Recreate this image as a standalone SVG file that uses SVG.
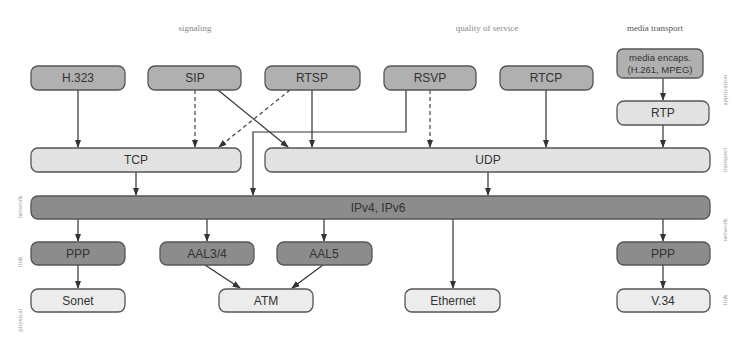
<svg xmlns="http://www.w3.org/2000/svg" width="733" height="349" viewBox="0 0 733 349">
<style>
.box{stroke:#555;stroke-width:1.3}
.mid{fill:#b0b0b0}
.lt{fill:#e2e2e2}
.xl{fill:#ececec}
.dk{fill:#8c8c8c}
.t{font-family:"Liberation Sans",Arial,sans-serif;font-size:12px;fill:#333;text-anchor:middle}
.h{font-family:"Liberation Serif",serif;font-size:9px;fill:#888;text-anchor:middle}
.side{font-family:"Liberation Serif",serif;font-size:7px;fill:#999;text-anchor:middle}
.c{stroke:#333;stroke-width:1.2;fill:none}
.d{stroke:#444;stroke-width:1.2;fill:none;stroke-dasharray:4 3}
</style>
<defs>
<marker id="a" viewBox="0 0 8 8" refX="7" refY="4" markerWidth="7" markerHeight="7" orient="auto">
<path d="M0,1 L8,4 L0,7 z" fill="#333"/>
</marker>
</defs>
<rect width="733" height="349" fill="#fff"/>
<g id="headers">
<text class="h" x="195" y="31">signaling</text>
<text class="h" x="487" y="31">quality of service</text>
<text class="h" x="655" y="31" style="fill:#555">media transport</text>
</g>
<g id="side-labels">
<text class="side" transform="translate(727,90) rotate(-90)">application</text>
<text class="side" transform="translate(727,160) rotate(-90)">transport</text>
<text class="side" transform="translate(727,230) rotate(-90)">network</text>
<text class="side" transform="translate(727,300) rotate(-90)">link</text>
<text class="side" transform="translate(22,207) rotate(-90)">network</text>
<text class="side" transform="translate(22,262) rotate(-90)">link</text>
<text class="side" transform="translate(22,320) rotate(-90)">physical</text>
</g>
<g id="connectors">
<line class="c" x1="78" y1="90" x2="78" y2="147" marker-end="url(#a)"/>
<line class="d" x1="195" y1="90" x2="195" y2="147" marker-end="url(#a)"/>
<line class="c" x1="218" y1="90" x2="288" y2="147" marker-end="url(#a)"/>
<line class="d" x1="290" y1="90" x2="219" y2="147" marker-end="url(#a)"/>
<line class="c" x1="312" y1="90" x2="312" y2="147" marker-end="url(#a)"/>
<polyline class="c" points="406,90 406,132 253,132 253,195" marker-end="url(#a)"/>
<line class="d" x1="430" y1="90" x2="430" y2="147" marker-end="url(#a)"/>
<line class="c" x1="546" y1="90" x2="546" y2="147" marker-end="url(#a)"/>
<line class="c" x1="663" y1="78" x2="663" y2="100" marker-end="url(#a)"/>
<line class="c" x1="663" y1="125" x2="663" y2="147" marker-end="url(#a)"/>
<line class="c" x1="136" y1="172" x2="136" y2="195" marker-end="url(#a)"/>
<line class="c" x1="488" y1="172" x2="488" y2="195" marker-end="url(#a)"/>
<line class="c" x1="78" y1="219" x2="78" y2="241" marker-end="url(#a)"/>
<line class="c" x1="207" y1="219" x2="207" y2="241" marker-end="url(#a)"/>
<line class="c" x1="324" y1="219" x2="324" y2="241" marker-end="url(#a)"/>
<line class="c" x1="453" y1="219" x2="453" y2="288" marker-end="url(#a)"/>
<line class="c" x1="663" y1="219" x2="663" y2="241" marker-end="url(#a)"/>
<line class="c" x1="78" y1="265" x2="78" y2="288" marker-end="url(#a)"/>
<line class="c" x1="205" y1="265" x2="240" y2="288" marker-end="url(#a)"/>
<line class="c" x1="323" y1="265" x2="292" y2="288" marker-end="url(#a)"/>
<line class="c" x1="663" y1="265" x2="663" y2="288" marker-end="url(#a)"/>
</g>
<g id="H323"><rect class="box mid" x="31" y="66" width="94" height="24" rx="7"/><text class="t" x="78" y="82">H.323</text></g>
<g id="SIP"><rect class="box mid" x="148" y="66" width="93" height="24" rx="7"/><text class="t" x="195" y="82">SIP</text></g>
<g id="RTSP"><rect class="box mid" x="265" y="66" width="95" height="24" rx="7"/><text class="t" x="312" y="82">RTSP</text></g>
<g id="RSVP"><rect class="box mid" x="384" y="66" width="92" height="24" rx="7"/><text class="t" x="430" y="82">RSVP</text></g>
<g id="RTCP"><rect class="box mid" x="500" y="66" width="93" height="24" rx="7"/><text class="t" x="546" y="82">RTCP</text></g>
<g id="media-encaps"><rect class="box mid" x="617" y="49" width="86" height="29" rx="6"/><text class="t" x="660" y="61" style="font-size:9.5px">media encaps.</text><text class="t" x="660" y="73" style="font-size:9.5px">(H.261, MPEG)</text></g>
<g id="RTP"><rect class="box lt" x="617" y="101" width="92" height="24" rx="7"/><text class="t" x="663" y="117">RTP</text></g>
<g id="TCP"><rect class="box lt" x="31" y="148" width="210" height="24" rx="7"/><text class="t" x="136" y="164">TCP</text></g>
<g id="UDP"><rect class="box lt" x="265" y="148" width="445" height="24" rx="7"/><text class="t" x="488" y="164">UDP</text></g>
<g id="IP"><rect class="box dk" x="31" y="196" width="679" height="23" rx="7"/><text class="t" x="378" y="212">IPv4, IPv6</text></g>
<g id="PPP1"><rect class="box dk" x="31" y="242" width="94" height="23" rx="7"/><text class="t" x="78" y="258">PPP</text></g>
<g id="AAL34"><rect class="box dk" x="160" y="242" width="94" height="23" rx="7"/><text class="t" x="207" y="258">AAL3/4</text></g>
<g id="AAL5"><rect class="box dk" x="277" y="242" width="95" height="23" rx="7"/><text class="t" x="324" y="258">AAL5</text></g>
<g id="PPP2"><rect class="box dk" x="617" y="242" width="93" height="23" rx="7"/><text class="t" x="663" y="258">PPP</text></g>
<g id="Sonet"><rect class="box xl" x="31" y="289" width="94" height="23" rx="7"/><text class="t" x="78" y="305">Sonet</text></g>
<g id="ATM"><rect class="box xl" x="219" y="289" width="94" height="23" rx="7"/><text class="t" x="266" y="305">ATM</text></g>
<g id="Ethernet"><rect class="box xl" x="405" y="289" width="95" height="23" rx="7"/><text class="t" x="453" y="305">Ethernet</text></g>
<g id="V34"><rect class="box xl" x="617" y="289" width="93" height="23" rx="7"/><text class="t" x="663" y="305">V.34</text></g>
</svg>
